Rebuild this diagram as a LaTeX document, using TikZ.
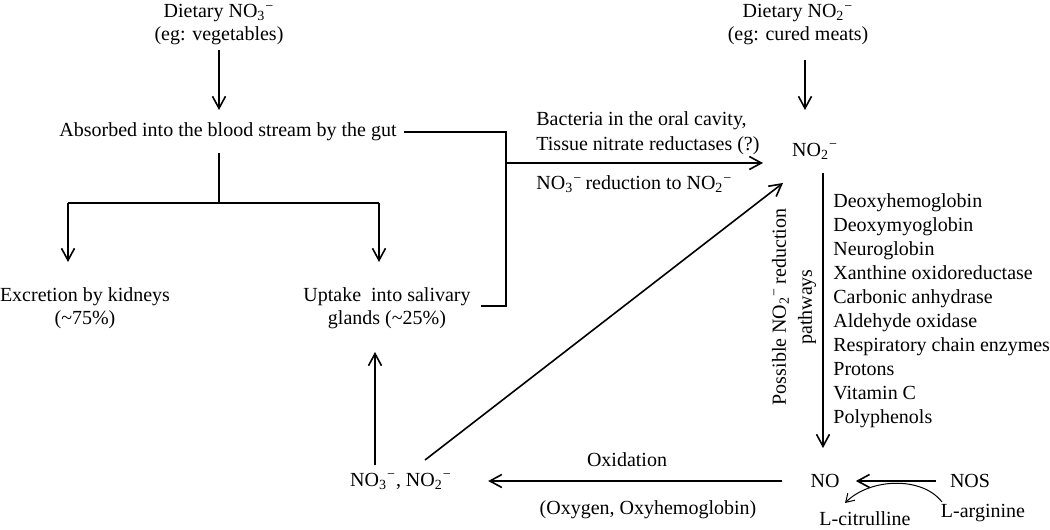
\documentclass[tikz,border=0pt]{standalone}
\usepackage{fontspec}
\setmainfont{Liberation Serif}
\usetikzlibrary{arrows.meta}
\newcommand{\subsup}[1]{\textsubscript{#1}\textsuperscript{−}}
\begin{document}
\begin{tikzpicture}[x=0.5pt,y=-0.5pt,
  every node/.style={inner sep=0pt,font=\fontsize{10pt}{11.5pt}\selectfont},
  conn/.style={line width=0.8pt},
  arr/.style={conn,-{Straight Barb[length=6pt,width=6.5pt,line width=0.8pt]}},
  thinarr/.style={line width=0.5pt,-{Straight Barb[length=4pt,width=5pt,line width=0.5pt]}},
  twoline/.style={align=center}]
\useasboundingbox (0,0) rectangle (1050,530);

% nodes
\node[twoline] (d3) at (219,25) {Dietary NO\subsup{3}\\(eg: vegetables)};
\node (absorb) at (228,132) {Absorbed into the blood stream by the gut};
\node[twoline] (excr) at (85,308) {Excretion by kidneys\\(\textasciitilde75\%)};
\node[twoline] (uptake) at (387,308) {Uptake\ \ into salivary\\glands (\textasciitilde25\%)};
\node[twoline] (d2) at (798,25) {Dietary NO\subsup{2}\\(eg: cured meats)};
\node (no2) at (815,151) {NO\subsup{2}};
\node[align=left,anchor=west,font=\fontsize{10pt}{12.5pt}\selectfont] (bact) at (536,133) {Bacteria in the oral cavity,\\Tissue nitrate reductases (?)};
\node[anchor=west] (red) at (536,184) {NO\subsup{3}\,reduction to NO\subsup{2}};
\node[align=left,anchor=west,font=\fontsize{10pt}{12pt}\selectfont] (list) at (833,311)
  {Deoxyhemoglobin\\Deoxymyoglobin\\Neuroglobin\\Xanthine oxidoreductase\\Carbonic anhydrase\\Aldehyde oxidase\\Respiratory chain enzymes\\Protons\\Vitamin C\\Polyphenols};
\node[align=center,rotate=90,font=\fontsize{10pt}{13pt}\selectfont] (rot) at (794,307) {Possible NO\subsup{2}\,reduction\\pathways};
\node (mix) at (401,481) {NO\subsup{3}, NO\subsup{2}};
\node (no) at (825,481) {NO};
\node (nos) at (970,481) {NOS};
\node (larg) at (983,513) {L-arginine};
\node (lcit) at (865,519) {L-citrulline};
\node (ox) at (627,460) {Oxidation};
\node (oxy) at (648,510) {(Oxygen, Oxyhemoglobin)};

% junction coordinates
\coordinate (j1) at (506,132);
\coordinate (j2) at (506,163);
\coordinate (j3) at (506,306);
\coordinate (s1) at (219,153);
\coordinate (s2) at (219,203);
\coordinate (sl) at (68,203);
\coordinate (sr) at (379,203);
\coordinate (tip1) at (763,163);
\coordinate (tip2) at (783,183);

% connectors
\draw[arr] (d3.south |- 0,50) -- (d3.south |- 0,110);
\draw[conn] (absorb.east) ++(7,0) -- (j1) -- (j3) -- ([xshift=5]uptake.east |- j3);
\draw[arr] (j2) -- (tip1);
\draw[conn] (s1) -- (s2);
\draw[conn] (sl) -- (sr);
\draw[arr] (sl) -- (sl |- 0,262);
\draw[arr] (sr) -- (sr |- 0,262);
\draw[arr] (mix.north -| 375,0) ++(0,-7) -- (375,352);
\draw[arr] (425,460) -- (tip2);
\draw[arr] (805,60) -- (805,110);
\draw[arr] (823,173) -- (823,448);
\draw[arr] ([xshift=-14]no.west) -- ([xshift=18]mix.east);
\draw[arr] ([xshift=-7]nos.west) -- ([xshift=8]no.east);
\draw[thinarr] (942,502) .. controls (922,476) and (870,478) .. (845,503);
\end{tikzpicture}
\end{document}
